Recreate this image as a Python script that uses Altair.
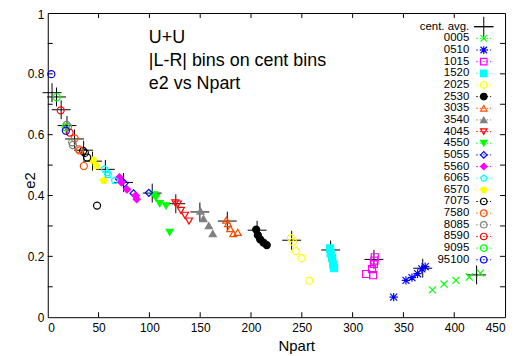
import altair as alt
import pandas as pd

FONT = "Liberation Sans"

# ---------------- data ----------------
series = ["0005", "0510", "1015", "1520", "2025", "2530", "3035", "3540", "4045", "4550",
          "5055", "5560", "6065", "6570", "7075", "7580", "8085", "8590", "9095", "95100"]

colors = ["#00ff00", "#0000ff", "#ff00ff", "#00ffff", "#ffff00", "#000000", "#ff4c00", "#808080", "#ff0000", "#00ff00",
          "#0000ff", "#ff00ff", "#00ffff", "#ffff00", "#000000", "#ff4c00", "#808080", "#ff0000", "#00ff00", "#0000ff"]

X_PATH = "M-1,-1L1,1M-1,1L1,-1"
STAR_PATH = "M-1,-1L1,1M-1,1L1,-1M-1.2,0L1.2,0M0,-1.2L0,1.2"
PENT_PATH = "M0,-1L0.951,-0.309L0.588,0.809L-0.588,0.809L-0.951,-0.309Z"
CROSS_PATH = "M-1,0L1,0M0,-1L0,1"

shapes = [X_PATH, STAR_PATH, "square", "square", "circle", "circle", "triangle-up", "triangle-up",
          "triangle-down", "triangle-down", "diamond", "diamond", PENT_PATH, PENT_PATH,
          "circle", "circle", "circle", "circle", "circle", "circle"]

filled = [False, False, False, True, False, True, False, True, False, True,
          False, True, False, True, False, False, False, False, False, False]

npart_0005 = [378.6, 390.0, 401.7, 414.8, 425.8]
e2_0005 = [0.090, 0.109, 0.121, 0.132, 0.145]
npart_0510 = [340.4, 352.5, 358.4, 363.9, 368.1, 371.4]
e2_0510 = [0.066, 0.121, 0.130, 0.143, 0.159, 0.166]
npart_1015 = [313.3, 319.2, 320.2, 320.9, 321.5, 321.8]
e2_1015 = [0.142, 0.158, 0.138, 0.175, 0.186, 0.197]
npart_1520 = [277.8, 278.4, 279.8, 280.8, 281.7]
e2_1520 = [0.226, 0.210, 0.194, 0.174, 0.161]
npart_2025 = [239.3, 241.2, 244.2, 249.8, 257.3]
e2_2025 = [0.260, 0.248, 0.217, 0.194, 0.120]
npart_2530 = [205.1, 206.7, 209.0, 212.3, 215.5]
e2_2530 = [0.288, 0.270, 0.256, 0.245, 0.237]
npart_3035 = [175.7, 177.4, 179.6, 182.6, 186.9]
e2_3035 = [0.319, 0.308, 0.291, 0.275, 0.279]
npart_3540 = [150.3, 153.2, 158.5, 162.4]
e2_3540 = [0.349, 0.324, 0.301, 0.275]
npart_4045 = [125.5, 128.0, 131.0, 135.0, 139.0]
e2_4045 = [0.376, 0.372, 0.351, 0.335, 0.316]
npart_4550 = [104.5, 106.4, 110.2, 116.4, 120.0]
e2_4550 = [0.402, 0.393, 0.373, 0.366, 0.279]
npart_5055 = [70.0, 75.5, 84.5, 99.5]
e2_5055 = [0.455, 0.440, 0.407, 0.409]
npart_5560 = [70.5, 72.5, 78.0, 86.5, 87.5]
e2_5560 = [0.460, 0.443, 0.420, 0.400, 0.388]
npart_6065 = [55.8, 58.5, 59.5, 65.8]
e2_6065 = [0.487, 0.475, 0.468, 0.449]
npart_6570 = [44.6, 47.9, 55.1]
e2_6570 = [0.516, 0.498, 0.449]
npart_7075 = [34.8, 36.5, 38.8, 48.5]
e2_7075 = [0.547, 0.540, 0.525, 0.367]
npart_7580 = [26.5, 30.5, 31.5, 35.5]
e2_7580 = [0.588, 0.552, 0.548, 0.497]
npart_8085 = [18.5, 20.0, 24.0, 24.7]
e2_8085 = [0.632, 0.626, 0.575, 0.566]
npart_8590 = [12.7, 21.5]
e2_8590 = [0.680, 0.607]
npart_9095 = [8.8, 17.5]
e2_9095 = [0.723, 0.625]
npart_95100 = [3.5, 17.8]
e2_95100 = [0.799, 0.613]

avg_npart = [4.2, 8.6, 13.2, 18.9, 26.4, 35.3, 44.0, 56.7, 74.6, 102.8,
             126.0, 149.7, 176.7, 206.0, 240.0, 278.4, 321.0, 369.0, 422.0]
avg_e2 = [0.738, 0.724, 0.682, 0.630, 0.586, 0.549, 0.513, 0.486, 0.443, 0.408,
          0.373, 0.346, 0.316, 0.286, 0.253, 0.221, 0.190, 0.161, 0.139]

x_ticks = [0, 50, 100, 150, 200, 250, 300, 350, 400, 450]
y_ticks = [0, 0.1, 0.2, 0.3, 0.4, 0.5, 0.6, 0.7, 0.8, 0.9, 1]

notes = ["U+U", "|L-R| bins on cent bins", "e2 vs Npart"]
note_x = [99.5, 99.5, 99.5]
note_y = [0.918, 0.843, 0.768]

# ---------------- tables ----------------
all_npart = [npart_0005, npart_0510, npart_1015, npart_1520, npart_2025, npart_2530, npart_3035,
             npart_3540, npart_4045, npart_4550, npart_5055, npart_5560, npart_6065, npart_6570,
             npart_7075, npart_7580, npart_8085, npart_8590, npart_9095, npart_95100]
all_e2 = [e2_0005, e2_0510, e2_1015, e2_1520, e2_2025, e2_2530, e2_3035,
          e2_3540, e2_4045, e2_4550, e2_5055, e2_5560, e2_6065, e2_6570,
          e2_7075, e2_7580, e2_8085, e2_8590, e2_9095, e2_95100]

rows = []
for s, xs, ys in zip(series, all_npart, all_e2):
    for xv, yv in zip(xs, ys):
        rows.append({"series": s, "npart": xv, "e2": yv})
df = pd.DataFrame(rows)
df_avg = pd.DataFrame({"npart": avg_npart, "e2": avg_e2})
df_notes = pd.DataFrame({"x": note_x, "y": note_y, "text": notes})
df_xt = pd.DataFrame({"v": x_ticks[1:-1]})
df_yt = pd.DataFrame({"v": y_ticks[1:-1]})

fills = [c if f else "transparent" for c, f in zip(colors, filled)]

W, H = 460, 306
TL = 5

xscale = alt.Scale(domain=[0, 450], nice=False, zero=False)
yscale = alt.Scale(domain=[0, 1], nice=False, zero=False)

shape_enc = alt.Shape("series:N", scale=alt.Scale(domain=series, range=shapes), legend=None)
stroke_enc = alt.Stroke("series:N", scale=alt.Scale(domain=series, range=colors), legend=None)
fill_enc = alt.Fill("series:N", scale=alt.Scale(domain=series, range=fills), legend=None)

x_axis = alt.Axis(values=x_ticks, format="d", ticks=False, tickSize=0, domain=False, grid=False,
                  labelFontSize=12, labelColor="black", labelFont=FONT, labelPadding=5,
                  title="Npart", titleFont=FONT, titleFontSize=15, titleFontWeight="normal",
                  titleColor="black", titleX=250, titleY=29, titleBaseline="middle")
y_axis = alt.Axis(values=y_ticks, format="~g", ticks=False, tickSize=0, domain=False, grid=False,
                  labelFontSize=12, labelColor="black", labelFont=FONT, labelPadding=4,
                  labelOffset={"condition": {"test": "datum.value >= 1", "value": 2}, "value": 0},
                  title="e2", titleFont=FONT, titleFontSize=15, titleFontWeight="normal",
                  titleColor="black", titleAngle=270, titleX=-18, titleY=168,
                  titleAlign="center", titleBaseline="middle")

base = alt.Chart(df)

avg_layer = alt.Chart(df_avg).mark_point(shape=CROSS_PATH, size=361, filled=False, stroke="black",
                                         strokeWidth=1, opacity=1).encode(
    x=alt.X("npart:Q", scale=xscale, axis=x_axis),
    y=alt.Y("e2:Q", scale=yscale, axis=y_axis),
)

pts = base.mark_point(filled=True, opacity=1, size=50, strokeWidth=1.2).encode(
    x=alt.X("npart:Q", scale=xscale),
    y=alt.Y("e2:Q", scale=yscale),
    shape=shape_enc, stroke=stroke_enc, fill=fill_enc,
)

notes_layer = alt.Chart(df_notes).mark_text(align="left", baseline="middle", fontSize=18,
                                            font=FONT, color="black").encode(
    x=alt.X("x:Q", scale=xscale), y=alt.Y("y:Q", scale=yscale), text="text:N")

tick_left = alt.Chart(df_yt).mark_rule(color="black", strokeWidth=1).encode(
    y=alt.Y("v:Q", scale=yscale), x=alt.value(0), x2=alt.value(TL))
tick_right = alt.Chart(df_yt).mark_rule(color="black", strokeWidth=1).encode(
    y=alt.Y("v:Q", scale=yscale), x=alt.value(W - TL), x2=alt.value(W))
tick_bottom = alt.Chart(df_xt).mark_rule(color="black", strokeWidth=1).encode(
    x=alt.X("v:Q", scale=xscale), y=alt.value(H - TL), y2=alt.value(H))
tick_top = alt.Chart(df_xt).mark_rule(color="black", strokeWidth=1).encode(
    x=alt.X("v:Q", scale=xscale), y=alt.value(0), y2=alt.value(TL))

main = alt.layer(tick_left, tick_right, tick_bottom, tick_top, avg_layer, pts, notes_layer)

# ---------------- legend ----------------
legend_labels = ["cent. avg."] + series
df_leg = pd.DataFrame({"series": series})
df_leg_avg = pd.DataFrame({"series": ["cent. avg."]})
df_leg_txt = pd.DataFrame({"series": legend_labels})
leg_y = alt.Y("series:N", scale=alt.Scale(domain=legend_labels, range=[5, 257], padding=0.5), axis=None)

SYM_X = 438.6
leg_text = alt.Chart(df_leg_txt).mark_text(align="right", baseline="middle", fontSize=11.5,
                                           font=FONT, color="black").encode(
    y=leg_y, x=alt.value(424), text="series:N")
leg_line = alt.Chart(df_leg).mark_rule(strokeWidth=1, strokeDash=[1.5, 2]).encode(
    y=leg_y, x=alt.value(431), x2=alt.value(446), stroke=stroke_enc)
leg_pts = alt.Chart(df_leg).mark_point(filled=True, opacity=1, size=42, strokeWidth=1.2).encode(
    y=leg_y, x=alt.value(SYM_X), shape=shape_enc, stroke=stroke_enc, fill=fill_enc)
leg_avg_line = alt.Chart(df_leg_avg).mark_rule(strokeWidth=1, color="black").encode(
    y=leg_y, x=alt.value(429), x2=alt.value(448))
leg_avg_pt = alt.Chart(df_leg_avg).mark_point(shape=CROSS_PATH, size=400, filled=False,
                                              stroke="black", strokeWidth=1, opacity=1).encode(
    y=leg_y, x=alt.value(SYM_X))

legend = alt.layer(leg_text, leg_line, leg_pts, leg_avg_line, leg_avg_pt)

chart = alt.layer(main, legend).resolve_scale(y="independent").properties(
    width=W, height=H,
    autosize=alt.AutoSizeParams(type="none"),
    padding={"left": 40, "top": 4, "right": 8, "bottom": 38},
    background="white",
).configure_view(stroke="black", strokeWidth=1)

chart.save("out.html", embed_options={"renderer": "svg", "actions": False})
